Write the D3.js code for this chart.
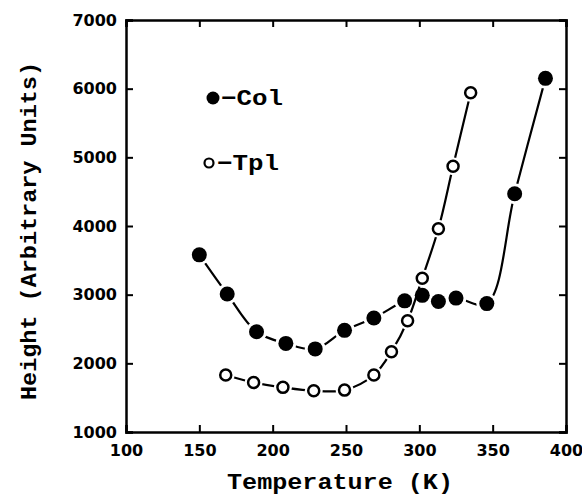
<!DOCTYPE html>
<html>
<head>
<meta charset="utf-8">
<script src="https://cdn.jsdelivr.net/npm/d3@7"></script>
<style>
  body { margin: 0; background: #fff; }
  .tick text { font-family: "DejaVu Sans"; font-weight: bold; font-size: 16px; }
  .title { font-family: "Liberation Mono"; font-weight: bold; fill: #000; }
</style>
</head>
<body>
<svg class="chart" width="582" height="497"></svg>
<script>
// Col series (filled markers)
var colT = [150, 169, 189, 209, 229, 249, 269, 290, 302, 313, 325, 346, 365, 386]
var colH = [3580, 3010, 2460, 2290, 2210, 2480, 2660, 2910, 2990, 2900, 2950, 2870, 4470, 6150]
// Tpl series (open markers)
var tplT = [168, 187, 207, 228, 249, 269, 281, 292, 302, 313, 323, 335]
var tplH = [1830, 1720, 1650, 1600, 1610, 1830, 2170, 2620, 3240, 3960, 4870, 5940]

var xTicks = [100, 150, 200, 250, 300, 350, 400]
var yTicks = [1000, 2000, 3000, 4000, 5000, 6000, 7000]

var svg = d3.select(".chart")
var m_left = 126, m_right = 566, m_top = 20, m_bottom = 432

var x = d3.scaleLinear().domain([100, 400]).range([m_left, m_right])
var y = d3.scaleLinear().domain([1000, 7000]).range([m_bottom, m_top])

// axes, ticks inward on all four sides
svg.append("g").attr("transform", "translate(0," + m_bottom + ")")
  .call(d3.axisBottom(x).tickValues(xTicks).tickSize(-7).tickPadding(13).tickFormat(d3.format("d")))
svg.append("g").attr("transform", "translate(0," + m_top + ")")
  .call(d3.axisTop(x).tickValues(xTicks).tickSize(-7).tickFormat(""))
svg.append("g").attr("transform", "translate(" + m_left + ",0)")
  .call(d3.axisLeft(y).tickValues(yTicks).tickSize(-7).tickPadding(9).tickFormat(d3.format("d")))
svg.append("g").attr("transform", "translate(" + m_right + ",0)")
  .call(d3.axisRight(y).tickValues(yTicks).tickSize(-7).tickFormat(""))

svg.selectAll(".domain").attr("stroke-width", 2.5)
svg.selectAll(".tick line").attr("stroke-width", 2)

// axis titles
svg.append("text").attr("class", "title")
  .attr("x", 340).attr("y", 489).attr("text-anchor", "middle")
  .attr("font-size", 22).attr("textLength", 226).attr("lengthAdjust", "spacingAndGlyphs")
  .text("Temperature (K)")
svg.append("text").attr("class", "title")
  .attr("transform", "translate(36,231) rotate(-90)").attr("text-anchor", "middle")
  .attr("font-size", 22).attr("textLength", 338).attr("lengthAdjust", "spacingAndGlyphs")
  .text("Height (Arbitrary Units)")

var line = d3.line().curve(d3.curveCatmullRom)
  .x(function(d) { return x(d[0]) })
  .y(function(d) { return y(d[1]) })

function drawSeries(ts, hs, filled) {
  var pts = d3.zip(ts, hs)
  svg.append("path").datum(pts)
    .attr("d", line).attr("fill", "none")
    .attr("stroke", "#000").attr("stroke-width", 2.2)
  var g = svg.append("g")
  // white halo gives the gap between line and marker
  g.selectAll(".halo").data(pts).enter().append("circle")
    .attr("cx", function(d) { return x(d[0]) })
    .attr("cy", function(d) { return y(d[1]) })
    .attr("r", filled ? 10.5 : 9)
    .attr("fill", "#fff")
  g.selectAll(".mark").data(pts).enter().append("circle")
    .attr("cx", function(d) { return x(d[0]) })
    .attr("cy", function(d) { return y(d[1]) })
    .attr("r", filled ? 7.5 : 5.5)
    .attr("fill", filled ? "#000" : "#fff")
    .attr("stroke", "#000").attr("stroke-width", filled ? 0 : 2.5)
}

drawSeries(colT, colH, true)
drawSeries(tplT, tplH, false)

// legend
svg.append("circle").attr("cx", 213).attr("cy", 98).attr("r", 6.5).attr("fill", "#000")
svg.append("text").attr("class", "title").attr("x", 221).attr("y", 105)
  .attr("font-size", 22).attr("textLength", 62).attr("lengthAdjust", "spacingAndGlyphs")
  .text("\u2212Col")
svg.append("circle").attr("cx", 209).attr("cy", 163).attr("r", 4.5)
  .attr("fill", "#fff").attr("stroke", "#000").attr("stroke-width", 2.2)
svg.append("text").attr("class", "title").attr("x", 217).attr("y", 170)
  .attr("font-size", 22).attr("textLength", 62).attr("lengthAdjust", "spacingAndGlyphs")
  .text("\u2212Tpl")
</script>
</body>
</html>
